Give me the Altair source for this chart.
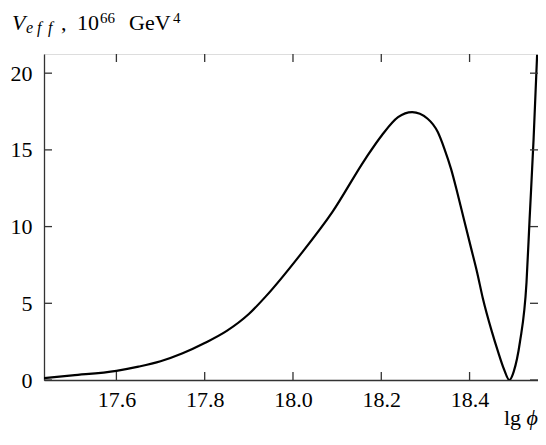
import altair as alt
import pandas as pd

# curve
lg_phi = [17.436, 17.5, 17.6, 17.65, 17.7, 17.75, 17.8, 17.85, 17.9, 17.94,
          18.015, 18.089, 18.164, 18.201, 18.238, 18.27, 18.305, 18.328,
          18.343, 18.358, 18.372, 18.387, 18.402, 18.417, 18.43, 18.45,
          18.465, 18.478, 18.49, 18.5, 18.514, 18.529, 18.536, 18.545, 18.553]
v_eff = [0.12, 0.3, 0.6, 0.87, 1.22, 1.74, 2.41, 3.2, 4.3, 5.5,
         8.11, 10.94, 14.42, 15.94, 17.13, 17.46, 17.03, 16.16,
         15.07, 13.76, 12.24, 10.5, 8.76, 7.03, 5.33, 3.2,
         1.8, 0.7, 0.0, 0.55, 2.46, 6.37, 10.5, 15.7, 21.2]
x_ticks = [17.6, 17.8, 18.0, 18.2, 18.4]
y_ticks = [0, 5, 10, 15, 20]
x_domain = [17.436, 18.555]
y_domain = [0, 21.25]

W, H = 494, 326
FONT = "Liberation Serif"
AX = "#333333"

df = pd.DataFrame({"x": lg_phi, "y": v_eff})
xt = pd.DataFrame({"v": x_ticks})
yt = pd.DataFrame({"v": y_ticks})

xscale = alt.Scale(domain=x_domain, nice=False, zero=False)
yscale = alt.Scale(domain=y_domain, nice=False)
xaxis = alt.Axis(values=x_ticks, format=".1f", ticks=False, grid=False,
                 labelPadding=9, labelFontSize=22, labelFont=FONT,
                 labelColor="black", domainColor=AX, domainWidth=1.3)
yaxis = alt.Axis(values=y_ticks, format="d", ticks=False, grid=False,
                 labelPadding=12, labelFontSize=22, labelFont=FONT,
                 labelColor="black", domainColor=AX, domainWidth=1.3)

line = alt.Chart(df).mark_line(color="black", strokeWidth=2.2, clip=True,
                               interpolate="monotone").encode(
    x=alt.X("x:Q", scale=xscale, title=None, axis=xaxis),
    y=alt.Y("y:Q", scale=yscale, title=None, axis=yaxis),
)

TL = 8
tick_style = dict(color=AX, strokeWidth=1.3)
left_t = alt.Chart(yt).mark_rule(**tick_style).encode(
    y=alt.Y("v:Q", scale=yscale, title=None, axis=yaxis),
    x=alt.value(0), x2=alt.value(TL))
right_t = alt.Chart(yt).mark_rule(**tick_style).encode(
    y=alt.Y("v:Q", scale=yscale, title=None, axis=yaxis),
    x=alt.value(W - TL), x2=alt.value(W))
bottom_t = alt.Chart(xt).mark_rule(**tick_style).encode(
    x=alt.X("v:Q", scale=xscale, title=None, axis=xaxis),
    y=alt.value(H - TL), y2=alt.value(H))
top_t = alt.Chart(xt).mark_rule(**tick_style).encode(
    x=alt.X("v:Q", scale=xscale, title=None, axis=xaxis),
    y=alt.value(0), y2=alt.value(TL))


def label(text, x, y, size=22, style="normal", align="left"):
    return alt.Chart(pd.DataFrame({"t": [text]})).mark_text(
        font=FONT, fontSize=size, fontStyle=style, align=align,
        baseline="alphabetic", color="black").encode(
        text="t:N", x=alt.value(x), y=alt.value(y))


texts = [
    label("V", -32, -24, 22, "italic"),
    label("e", -18, -21, 16, "italic"),
    label("f", -7, -21, 16, "italic"),
    label("f", 4, -21, 16, "italic"),
    label(",", 17, -24),
    label("10", 33, -24),
    label("66", 56, -31, 15),
    label("GeV", 85, -24),
    label("4", 129, -31, 15),
    label("\u03d5", W, H + 45, 22, "italic", "right"),
    label("lg", W - 17, H + 45, 22, "normal", "right"),
]

chart = alt.layer(line, left_t, right_t, bottom_t, top_t, *texts).properties(
    width=W, height=H,
    autosize=alt.AutoSizeParams(type="none"),
    padding={"left": 36, "top": 46, "right": 0, "bottom": 52},
).configure_view(stroke=AX, strokeWidth=1.3).configure(background="white")

chart.save("out.html", embed_options={"renderer": "svg", "actions": False})
